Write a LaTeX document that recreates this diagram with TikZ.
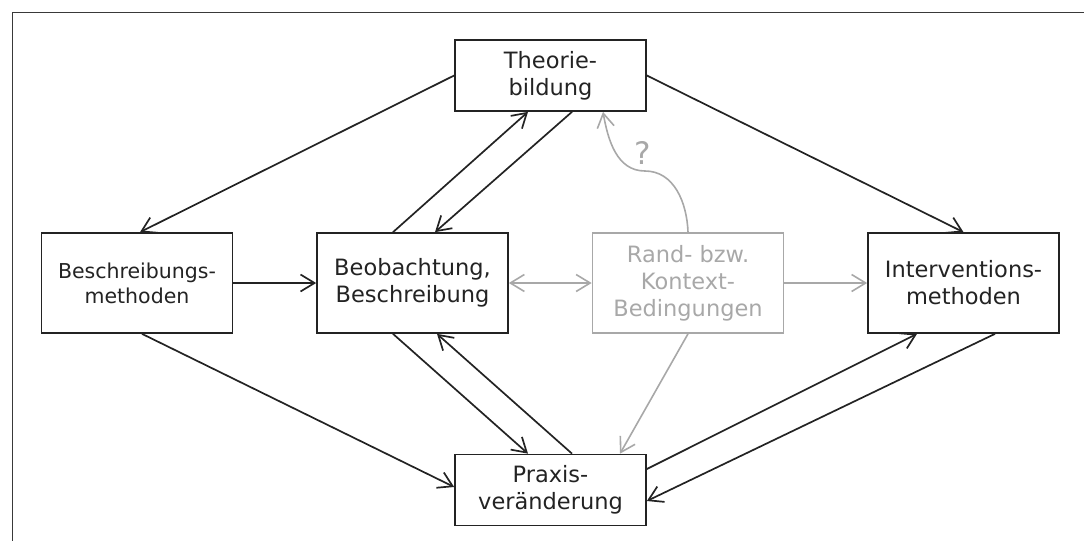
\documentclass[tikz,border=0pt]{standalone}
\usepackage{fontspec}
\setmainfont{DejaVu Sans}
\usepackage{tikz}
\usetikzlibrary{arrows.meta, positioning, calc}
\definecolor{randgray}{RGB}{168,168,168}
\definecolor{darkline}{RGB}{35,35,35}
\tikzset{
   mybox/.style={draw=darkline, line width=1.7pt, minimum width=191pt, minimum height=100pt, align=center, text=darkline, font=\fontsize{22.5}{27}\selectfont},
   myflat/.style={mybox, minimum height=71pt},
   mysmall/.style={mybox, font=\fontsize{20.5}{25}\selectfont},
   mygray/.style={mybox, draw=randgray, text=randgray}
}

\begin{document}
\begin{tikzpicture}[x=1pt, y=-1pt, >={Straight Barb[length=14pt,width=17pt]}]
         \tikzstyle{line} = [draw=darkline, line width=1.7pt, ->]
         \tikzstyle{grayline} = [draw=randgray, line width=1.6pt, ->]
            \useasboundingbox (0,0) rectangle (1084,541);
            \draw [darkline!90, line width=1.5pt] (1084,12.5) -- (12.5,12.5) -- (12.5,541);

            \node [myflat] (theorie) at (550.5,75.5) {Theorie-\\bildung};
            \node [mysmall] (beschr) at (137,283) {Beschreibungs-\\methoden};
            \node [mybox] (beob) at (412.5,283) {Beobachtung,\\Beschreibung};
            \node [mygray] (rand) at (688,283) {Rand- bzw.\\Kontext-\\Bedingungen};
            \node [mybox] (interv) at (963.5,283) {Interventions-\\methoden};
            \node [myflat] (praxis) at (550.5,490) {Praxis-\\veränderung};

            \path [line] (theorie.west) -- ([xshift=3pt]beschr.north);
            \path [line] (theorie.east) -- (interv.north);
            \path [line] (beschr.east) -- (beob.west);
            \path [line] ([xshift=-19.5pt]beob.north) -- ([xshift=-22.5pt]theorie.south);
            \path [line] ([xshift=21.5pt]theorie.south) -- ([xshift=22.5pt]beob.north);
            \path [line] ([xshift=-19.5pt]beob.south) -- ([xshift=-22.5pt]praxis.north);
            \path [line] ([xshift=21.5pt]praxis.north) -- ([xshift=24.5pt]beob.south);
            \path [line] ([xshift=5pt]beschr.south) -- ([yshift=3pt]praxis.west);
            \path [line] ([yshift=21pt]praxis.east) -- ([xshift=-46.5pt]interv.south);
            \path [line] ([xshift=31.5pt]interv.south) -- ([yshift=-11pt]praxis.east);

            % Rand- bzw. Kontextbedingungen
            \coordinate (bend) at (645,171);
            \path [grayline, <->] (beob.east) -- (rand.west);
            \path [grayline] (rand.east) -- (interv.west);
            \path [grayline] (rand.south) -- ([xshift=69.5pt]praxis.north);
            \path [grayline] (rand.north) to[out=92,in=0] (bend) to[out=180,in=-80] ([xshift=52.5pt]theorie.south);
            \node [text=randgray, font=\fontsize{31}{36}\selectfont] (frage) at (643,153) {?};
      \end{tikzpicture}
\end{document}
